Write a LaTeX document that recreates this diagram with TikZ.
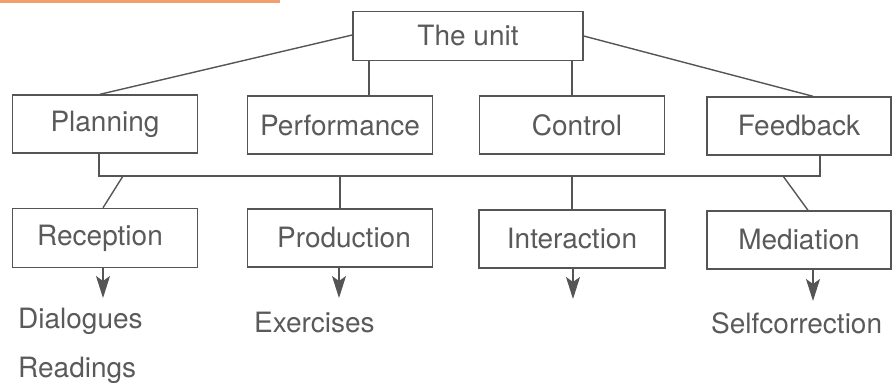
\documentclass[tikz,border=0pt]{standalone}
\usepackage{fontspec}
\setmainfont{TeX Gyre Heros}
\usetikzlibrary{arrows.meta}
\definecolor{ln}{HTML}{555555}
\definecolor{tx}{HTML}{5A5A5A}
\definecolor{orng}{HTML}{F2A070}
\begin{document}
\begin{tikzpicture}[x=1pt,y=-1pt,
  box/.style={draw=ln,line width=1.4pt,rectangle,inner sep=0pt,text=tx,
    font=\fontsize{28}{33}\selectfont},
  lbl/.style={anchor=west,inner sep=0pt,text=tx,font=\fontsize{28}{33}\selectfont},
  conn/.style={draw=ln,line width=1.4pt},
  arr/.style={conn,-{Stealth[length=22pt,width=14pt,inset=5pt]}}]
\useasboundingbox (0,0) rectangle (892,383);
\fill[orng] (0,0) rectangle (280,3);
% boxes (pixel coords)
\node[box,minimum width=230pt,minimum height=49pt] (unit) at (468,36) {The unit};
\node[box,minimum width=185pt,minimum height=58pt] (plan) at (105,124) {Planning};
\node[box,minimum width=185pt,minimum height=58pt] (perf) at (340,125) {Performance};
\node[box,minimum width=185pt,minimum height=58pt] (ctrl) at (572,125) {\hspace*{10pt}Control};
\node[box,minimum width=184pt,minimum height=58pt] (feed) at (799,126) {Feedback};
\node[box,minimum width=185pt,minimum height=59pt] (rec) at (105,238) {Reception\hspace*{10pt}};
\node[box,minimum width=185pt,minimum height=58pt] (prod) at (340,238) {\hspace*{8pt}Production};
\node[box,minimum width=186pt,minimum height=58pt] (inter) at (572,239) {Interaction};
\node[box,minimum width=184pt,minimum height=58pt] (med) at (799,240) {Mediation};
% texts
\node[lbl] (dia) at (18,321) {Dialogues};
\node[lbl] (rea) at (18,370) {Readings};
\node[lbl] (exe) at (254,322) {Exercises};
\node[lbl] (self) at (711,323) {Selfcorrection};
% connectors from the unit
\draw[conn] (unit.west |- 0,35) -- (plan.north -| 100,0);
\draw[conn] (unit.south -| 369,0) -- (perf.north -| 369,0);
\draw[conn] (unit.south -| 572,0) -- (ctrl.north -| 572,0);
\draw[conn] (unit.east |- 0,36) -- (feed.north -| 813,0);
% bus
\coordinate (b1) at (99,176);
\coordinate (b2) at (820,176);
\draw[conn] (plan.south -| b1) -- (b1) -- (b2) -- (feed.south -| b2);
\coordinate (r0) at (123,176);
\coordinate (m0) at (783,176);
\draw[conn] (r0) -- (rec.north -| 103,0);
\draw[conn] (prod.north |- b1) -- (prod.north);
\draw[conn] (inter.north |- b1) -- (inter.north);
\draw[conn] (m0) -- (med.north -| 808,0);
% arrows
\coordinate (a1) at (103,298);
\coordinate (a2) at (339,298);
\coordinate (a3) at (573,299);
\coordinate (a4) at (813,301);
\draw[arr] (rec.south -| a1) -- (a1);
\draw[arr] (prod.south -| a2) -- (a2);
\draw[arr] (inter.south -| a3) -- (a3);
\draw[arr] (med.south -| a4) -- (a4);
\end{tikzpicture}
\end{document}
